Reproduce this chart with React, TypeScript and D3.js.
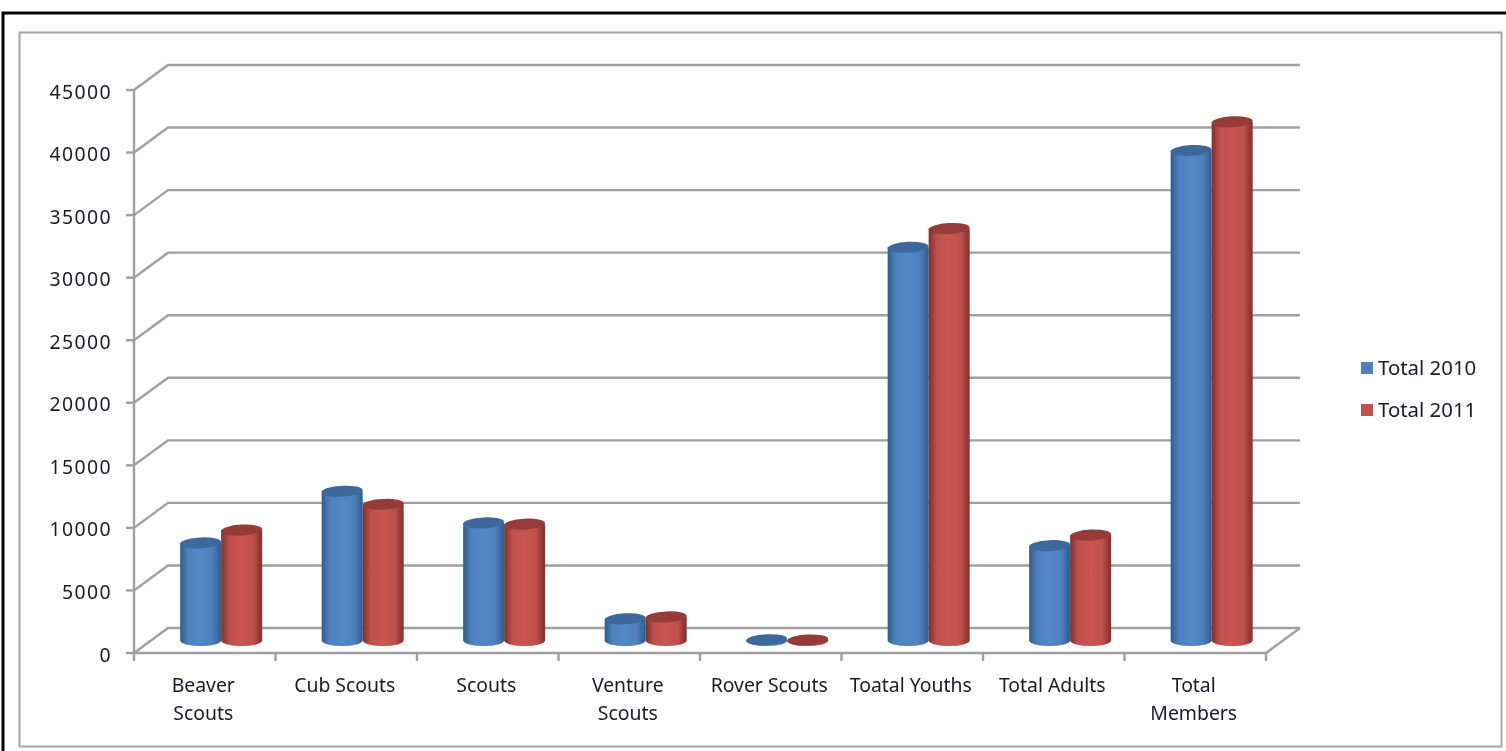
import React from "react";
import * as d3 from "d3";

const categories = [["Beaver", "Scouts"], ["Cub Scouts"], ["Scouts"], ["Venture", "Scouts"], ["Rover Scouts"], ["Toatal Youths"], ["Total Adults"], ["Total", "Members"]];
const total2010 = [7800, 11930, 9400, 1730, 60, 31430, 7580, 39160];
const total2011 = [8830, 10880, 9300, 1880, 40, 32930, 8430, 41460];
const seriesNames = ["Total 2010", "Total 2011"];
const ticks = d3.range(0, 45001, 5000);

const FONT = "'Noto Sans', sans-serif";
const dx = 34, dy = -25;
const x = d3.scaleBand<number>().domain(d3.range(8)).range([134, 1266]);
const y = d3.scaleLinear().domain([0, 45000]).range([653, 90]);

const palette = [
  { id: "b", edge: "#2f5d90", mid: "#4f81bd", light: "#5188c6", top: "#3c689c", key: "#4f81bd" },
  { id: "r", edge: "#7f2f2d", mid: "#c0504d", light: "#ca5451", top: "#953a38", key: "#c0504d" },
];

function Cyl({ cx, v, c }: { cx: number; v: number; c: (typeof palette)[number] }) {
  const rx = 20.5, ry = 5.5;
  const base = y(v) + dy / 2;
  const bottom = y(0) + dy / 2;
  const l = cx - rx, r = cx + rx;
  const body = `M${l},${base}L${l},${bottom}A${rx},${ry} 0 0 0 ${r},${bottom}L${r},${base}Z`;
  return (
    <g>
      <path d={body} fill={`url(#g${c.id})`} />
      <ellipse cx={cx} cy={base} rx={rx} ry={ry} fill={c.top} transform={`rotate(-3 ${cx} ${base})`} />
    </g>
  );
}

export default function App() {
  return (
    <svg width={1506} height={751} style={{ position: "absolute", left: 0, top: 0, display: "block", background: "#fff" }}>
      <defs>
        {palette.map((c) => (
          <linearGradient key={c.id} id={`g${c.id}`} x1="0" x2="1" y1="0" y2="0">
            <stop offset="0" stopColor={c.edge} />
            <stop offset="0.2" stopColor={c.mid} />
            <stop offset="0.5" stopColor={c.light} />
            <stop offset="0.78" stopColor={c.mid} />
            <stop offset="1" stopColor={c.edge} />
          </linearGradient>
        ))}
        <filter id="soft" x="-5%" y="-5%" width="110%" height="110%">
          <feGaussianBlur stdDeviation="0.7" />
        </filter>
      </defs>
      <rect x={3} y={13} width={1510} height={760} fill="none" stroke="#000" strokeWidth={3} />
      <rect x={19.5} y={32.5} width={1482} height={714} fill="none" stroke="#a6a6a6" strokeWidth={2} />
      <g filter="url(#soft)">
        <g stroke="#a0a0a0" strokeWidth={2.4} fill="none">
          {ticks.map((t) => (
            <path key={t} d={`M134,${y(t)}L${134 + dx},${y(t) + dy}H${1266 + dx}`} />
          ))}
          <path d={`M134,${y(45000)}V${y(0)}H1266L${1266 + dx},${y(0) + dy}`} />
          {ticks.map((t) => (
            <path key={t} d={`M126,${y(t)}H134`} />
          ))}
          {d3.range(9).map((i) => {
            const px = i === 8 ? 1266 : (x(i) as number);
            return <path key={i} d={`M${px},${y(0)}V661`} />;
          })}
        </g>
        {categories.map((_, i) => {
          const cx = (x(i) as number) + x.bandwidth() / 2 + 16.4;
          return (
            <g key={i}>
              <Cyl cx={cx - 20.5} v={total2010[i]} c={palette[0]} />
              <Cyl cx={cx + 20.5} v={total2011[i]} c={palette[1]} />
            </g>
          );
        })}
        {seriesNames.map((_, i) => (
          <rect key={i} x={1361} y={362 + i * 42} width={12} height={12} fill={palette[i].key} />
        ))}
      </g>
      <g fontFamily={FONT} fontSize={19.4} fill="#1a1a2a">
        {ticks.map((t) => (
          <text key={t} x={112} y={y(t) + 8.5} textAnchor="end" letterSpacing={1.4}>{t}</text>
        ))}
        {categories.map((lines, i) => (
          <text key={i} textAnchor="middle">
            {lines.map((s, j) => (
              <tspan key={j} x={(x(i) as number) + x.bandwidth() / 2 - 1.5} y={691.5 + j * 28}>{s}</tspan>
            ))}
          </text>
        ))}
        {seriesNames.map((s, i) => (
          <text key={s} x={1378} y={375 + i * 42} fontSize={20.4}>{s}</text>
        ))}
      </g>
    </svg>
  );
}
